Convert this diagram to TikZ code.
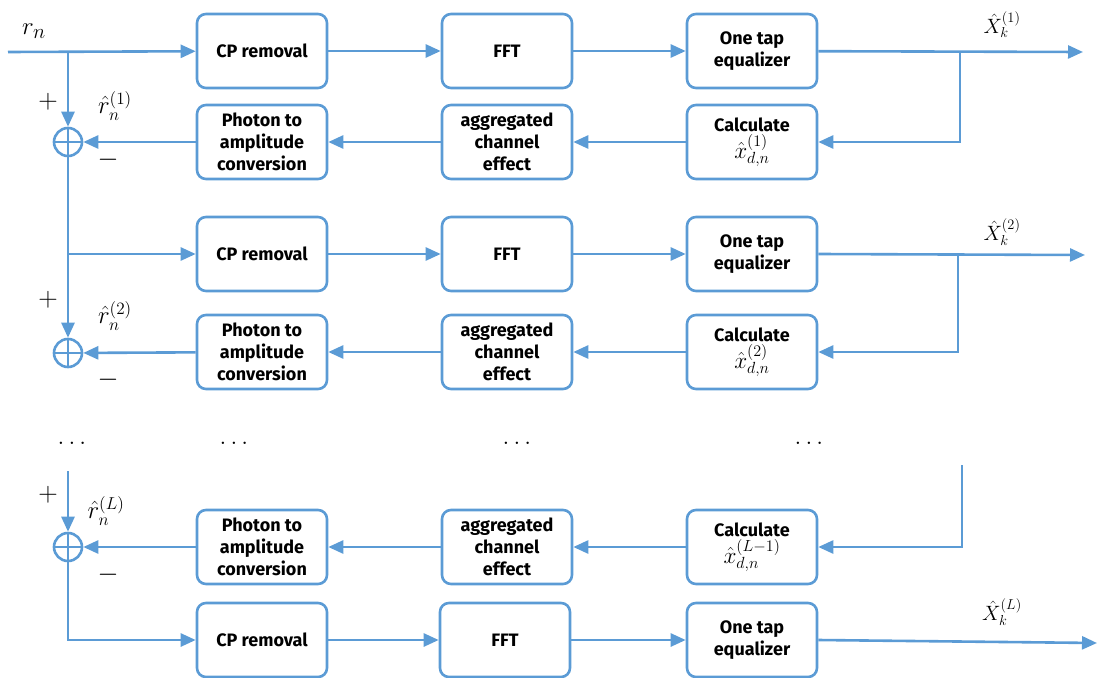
\documentclass[tikz,border=0pt]{standalone}
\usepackage{fontspec}
\newfontfamily\boxfont{Fira Sans}
\usetikzlibrary{arrows.meta}
\definecolor{lineblue}{RGB}{91,155,213}
\tikzset{
  blk/.style={draw=lineblue, line width=2.6pt, rounded corners=9pt, minimum width=130pt,
    minimum height=74pt, align=center, font=\boxfont\bfseries\fontsize{18}{22}\selectfont},
  sumnode/.style={draw=lineblue, line width=2.6pt, circle, minimum size=28pt, inner sep=0pt,
    path picture={\draw[lineblue, line width=2.6pt] (path picture bounding box.north) -- (path picture bounding box.south)
      (path picture bounding box.west) -- (path picture bounding box.east);}},
  arr/.style={draw=lineblue, line width=2.6pt, -{Triangle[length=15pt,width=13pt]}},
  wire/.style={draw=lineblue, line width=2.6pt},
  lbl/.style={font=\fontsize{21}{26}\selectfont},
  rlbl/.style={lbl, scale=1.2, transform shape},
  sgn/.style={lbl, scale=1.3, transform shape},
  dotlbl/.style={lbl, scale=1.2, transform shape}
}
\newcommand{\calcmath}[1]{{\fontsize{21}{26}\selectfont\scalebox{1.12}{$\hat{x}^{(#1)}_{d,n}$}}}
\begin{document}
\begin{tikzpicture}[x=1pt, y=-1pt]
    \useasboundingbox (0,0) rectangle (1097,677);
    % first branch
    \node[blk] (cp1) at (262,51) {CP removal};
    \node[blk] (fft1) at (507,51) {FFT};
    \node[blk] (eq1) at (752,51) {One tap\\equalizer};
    \node[blk] (pa1) at (262,142) {Photon to\\amplitude\\conversion};
    \node[blk] (ag1) at (507,142) {aggregated\\channel\\effect};
    \node[blk] (ca1) at (752,142) {Calculate\\[2pt]\calcmath{1}};
    \node[sumnode] (s1) at (68,142) {};
    % second branch
    \node[blk] (cp2) at (262,254) {CP removal};
    \node[blk] (fft2) at (507,254) {FFT};
    \node[blk] (eq2) at (752,254) {One tap\\equalizer};
    \node[blk] (pa2) at (262,352) {Photon to\\amplitude\\conversion};
    \node[blk] (ag2) at (507,352) {aggregated\\channel\\effect};
    \node[blk] (ca2) at (752,352) {Calculate\\[2pt]\calcmath{2}};
    \node[sumnode] (s2) at (68,353) {};
    % last branch
    \node[blk] (paL) at (262,547) {Photon to\\amplitude\\conversion};
    \node[blk] (agL) at (507,547) {aggregated\\channel\\effect};
    \node[blk] (caL) at (752,547) {Calculate\\[2pt]\calcmath{L-1}};
    \node[sumnode] (sL) at (68,547) {};
    \node[blk] (cpL) at (262,640) {CP removal};
    \node[blk] (fftL) at (505,640) {FFT};
    \node[blk] (eqL) at (752,640) {One tap\\equalizer};

    \coordinate (in) at (8,52);
    \coordinate (j1) at (68,52);
    \coordinate (j2) at (68,254);
    \coordinate (tL) at (68,471);
    \coordinate (b1) at (960,52);
    \coordinate (o1) at (1083,52);
    \coordinate (b2) at (958,255);
    \coordinate (o2) at (1085,255);
    \coordinate (bL) at (962,465);
    \coordinate (oL) at (1097,643);

    \draw[arr] (in) -- (cp1);
    \draw[arr] (j1) -- (s1);
    \draw[arr] (cp1) -- (fft1);
    \draw[arr] (fft1) -- (eq1);
    \draw[arr] (eq1) -- (o1);
    \draw[arr] (b1) |- (ca1);
    \draw[arr] (ca1) -- (ag1);
    \draw[arr] (ag1) -- (pa1);
    \draw[arr] (pa1) -- (s1);

    \draw[wire] (s1) -- (j2);
    \draw[arr] (j2) -- (cp2);
    \draw[arr] (j2) -- (s2);
    \draw[arr] (cp2) -- (fft2);
    \draw[arr] (fft2) -- (eq2);
    \draw[arr] (eq2.east) -- (o2);
    \draw[arr] (b2) |- (ca2);
    \draw[arr] (ca2) -- (ag2);
    \draw[arr] (ag2) -- (pa2);
    \draw[arr] (pa2) -- (s2);

    \draw[arr] (tL) -- (sL);
    \draw[arr] (bL) |- (caL);
    \draw[arr] (caL) -- (agL);
    \draw[arr] (agL) -- (paL);
    \draw[arr] (paL) -- (sL);
    \draw[arr] (sL) |- (cpL);
    \draw[arr] (cpL) -- (fftL);
    \draw[arr] (fftL) -- (eqL);
    \draw[arr] (eqL.east) -- (oL);

    % labels
    \node[font=\fontsize{28}{30}\selectfont] (rn) at (34,31) {$r_n$};
    \node[sgn] (p1) at (48,102) {$+$};
    \node[sgn] (m1) at (108,160) {$-$};
    \node[rlbl] (r1) at (115,106) {$\hat{r}^{(1)}_n$};
    \node[sgn] (p2) at (48,300) {$+$};
    \node[sgn] (m2) at (108,380) {$-$};
    \node[rlbl] (r2) at (115,316) {$\hat{r}^{(2)}_n$};
    \node[sgn] (pL) at (48,495) {$+$};
    \node[sgn] (mL) at (108,575) {$-$};
    \node[rlbl] (rL) at (106,511) {$\hat{r}^{(L)}_n$};
    \node[lbl] (X1) at (1002,25) {$\hat{X}^{(1)}_k$};
    \node[lbl] (X2) at (1002,232) {$\hat{X}^{(2)}_k$};
    \node[lbl] (XL) at (1002,612) {$\hat{X}^{(L)}_k$};
    \node[dotlbl] (d1) at (72,443) {$\dots$};
    \node[dotlbl] (d2) at (234,443) {$\dots$};
    \node[dotlbl] (d3) at (517,443) {$\dots$};
    \node[dotlbl] (d4) at (809,443) {$\dots$};
\end{tikzpicture}
\end{document}
